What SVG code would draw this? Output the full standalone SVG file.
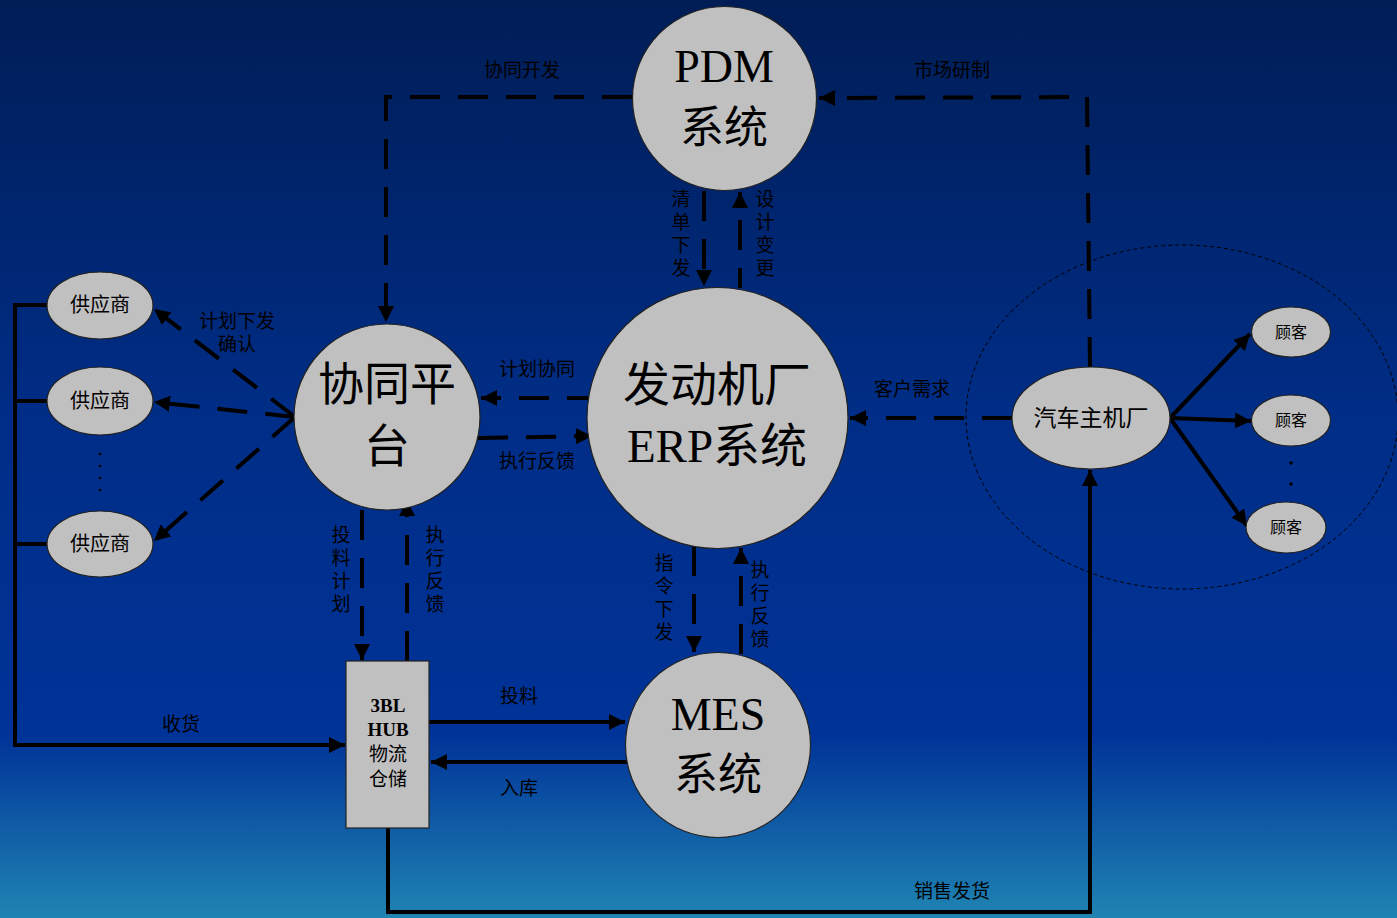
<svg xmlns="http://www.w3.org/2000/svg" width="1397" height="918" viewBox="0 0 1397 918">
<defs>
<linearGradient id="bg" x1="0" y1="0" x2="0" y2="1">
<stop offset="0" stop-color="#001d56"/>
<stop offset="0.45" stop-color="#002d86"/>
<stop offset="0.8" stop-color="#003398"/>
<stop offset="1" stop-color="#1f84b2"/>
</linearGradient>
<marker id="ah" viewBox="0 0 10 10" refX="10" refY="5" markerWidth="16" markerHeight="16" markerUnits="userSpaceOnUse" orient="auto">
<path d="M0,0 L10,5 L0,10 z" fill="#000"/>
</marker>
<style>
.node{fill:#c0c0c0;stroke:#222;stroke-width:1.2}
.big{font-family:"Liberation Serif","Noto Sans CJK SC",serif;fill:#000;text-anchor:middle}
.lbl{font-family:"Noto Sans CJK SC","Liberation Sans",sans-serif;font-size:19px;fill:#000;text-anchor:middle}
.vert{text-anchor:start;writing-mode:vertical-rl;letter-spacing:4px}
.dash{fill:none;stroke:#000;stroke-width:4;stroke-dasharray:30 18}
.solid{fill:none;stroke:#000;stroke-width:4}
</style>
</defs>
<rect x="0" y="0" width="1397" height="918" fill="url(#bg)"/>

<g id="market-ring">
<ellipse cx="1182" cy="417" rx="216" ry="172" fill="none" stroke="#000" stroke-width="1" stroke-dasharray="4 3"/>
</g>

<g id="connectors">
<path class="dash" d="M632,97 L386,97 L386,322" marker-end="url(#ah)"/>
<path class="dash" d="M1090,367 L1087,97 L819,98" marker-end="url(#ah)"/>
<path class="dash" d="M704,191 L704,286" marker-end="url(#ah)"/>
<path class="dash" d="M740,288 L740,192" marker-end="url(#ah)" style="stroke-dashoffset:10"/>
<path class="dash" d="M597,398 L481,398" marker-end="url(#ah)"/>
<path class="dash" d="M478,438 L592,436" marker-end="url(#ah)"/>
<path class="dash" d="M1012,418 L850,418" marker-end="url(#ah)"/>
<path class="dash" d="M295,417 L154,309" marker-end="url(#ah)"/>
<path class="dash" d="M295,417 L154,402" marker-end="url(#ah)"/>
<path class="dash" d="M295,417 L154,541" marker-end="url(#ah)"/>
<path class="dash" d="M362,510 L362,660" marker-end="url(#ah)"/>
<path class="dash" d="M407,661 L407,500" marker-end="url(#ah)"/>
<path class="dash" d="M694,546 L694,652" marker-end="url(#ah)"/>
<path class="dash" d="M741,654 L741,548" marker-end="url(#ah)"/>
<path class="solid" d="M429,722 L625,722" marker-end="url(#ah)"/>
<path class="solid" d="M627,762 L431,762" marker-end="url(#ah)"/>
<path class="solid" d="M47,305 L15,305 L15,745 L345,745" marker-end="url(#ah)"/>
<path class="solid" d="M15,401 L47,401"/>
<path class="solid" d="M15,544 L47,544"/>
<path class="solid" d="M388,828 L388,912 L1090,912 L1090,470" marker-end="url(#ah)"/>
<path class="solid" d="M1170,418 L1250,334" marker-end="url(#ah)"/>
<path class="solid" d="M1170,418 L1251,421" marker-end="url(#ah)"/>
<path class="solid" d="M1170,418 L1247,526" marker-end="url(#ah)"/>
</g>

<g id="labels">
<text class="lbl" x="522" y="77">协同开发</text>
<text class="lbl" x="952" y="77">市场研制</text>
<text class="lbl" x="537" y="376">计划协同</text>
<text class="lbl" x="537" y="468">执行反馈</text>
<text class="lbl" x="912" y="396">客户需求</text>
<text class="lbl" x="237" y="328">计划下发<tspan x="237" dy="23">确认</tspan></text>
<text class="lbl" x="519" y="703">投料</text>
<text class="lbl" x="519" y="795">入库</text>
<text class="lbl" x="181" y="731">收货</text>
<text class="lbl" x="952" y="898">销售发货</text>
<text class="lbl vert" x="681" y="189">清单下发</text>
<text class="lbl vert" x="765" y="189">设计变更</text>
<text class="lbl vert" x="341" y="525">投料计划</text>
<text class="lbl vert" x="435" y="525">执行反馈</text>
<text class="lbl vert" x="664" y="553">指令下发</text>
<text class="lbl vert" x="760" y="560">执行反馈</text>
</g>

<g id="pdm">
<circle class="node" cx="724.5" cy="98.5" r="92"/>
<text class="big" x="724" y="82" font-size="46">PDM</text>
<text class="big" x="724" y="143" font-size="44">系统</text>
</g>

<g id="erp">
<circle class="node" cx="717.5" cy="418" r="130.5"/>
<text class="big" x="717" y="401" font-size="47">发动机厂</text>
<text class="big" x="717" y="462" font-size="47">ERP系统</text>
</g>

<g id="collab">
<circle class="node" cx="387" cy="417" r="93"/>
<text class="big" x="387" y="400" font-size="46">协同平</text>
<text class="big" x="387" y="462" font-size="46">台</text>
</g>

<g id="mes">
<circle class="node" cx="718" cy="745" r="92.5"/>
<text class="big" x="718" y="730" font-size="46">MES</text>
<text class="big" x="718" y="790" font-size="44">系统</text>
</g>

<g id="hub">
<rect class="node" x="346" y="661" width="83" height="167"/>
<text class="big" x="388" y="712" font-size="19" font-weight="bold">3BL<tspan x="388" dy="24">HUB</tspan></text>
<text class="big" x="388" y="761" font-size="19">物流<tspan x="388" dy="25">仓储</tspan></text>
</g>

<g id="supplier1">
<ellipse class="node" cx="100" cy="305.5" rx="53" ry="33.5"/>
<text class="lbl" x="100" y="312" style="font-size:20px">供应商</text>
</g>
<g id="supplier2">
<ellipse class="node" cx="100" cy="401" rx="53" ry="34"/>
<text class="lbl" x="100" y="408" style="font-size:20px">供应商</text>
</g>
<g id="supplier3">
<ellipse class="node" cx="100" cy="544" rx="53" ry="33"/>
<text class="lbl" x="100" y="551" style="font-size:20px">供应商</text>
</g>
<g id="supplier-dots" fill="#000">
<circle cx="100" cy="454" r="1.3"/><circle cx="100" cy="466" r="1.3"/><circle cx="100" cy="478" r="1.3"/><circle cx="100" cy="490" r="1.3"/>
</g>

<g id="oem">
<ellipse class="node" cx="1091" cy="418" rx="79" ry="51"/>
<text class="lbl" x="1091" y="426" style="font-size:23px">汽车主机厂</text>
</g>

<g id="customer1">
<ellipse class="node" cx="1291" cy="332" rx="39.5" ry="25"/>
<text class="lbl" x="1291" y="338" style="font-size:16px">顾客</text>
</g>
<g id="customer2">
<ellipse class="node" cx="1291" cy="420.5" rx="39.5" ry="25.5"/>
<text class="lbl" x="1291" y="426" style="font-size:16px">顾客</text>
</g>
<g id="customer3">
<ellipse class="node" cx="1286" cy="527.5" rx="40" ry="25.5"/>
<text class="lbl" x="1286" y="533" style="font-size:16px">顾客</text>
</g>
<g id="customer-dots" fill="#000">
<circle cx="1291" cy="463" r="1.8"/><circle cx="1291" cy="484" r="1.8"/>
</g>
</svg>
